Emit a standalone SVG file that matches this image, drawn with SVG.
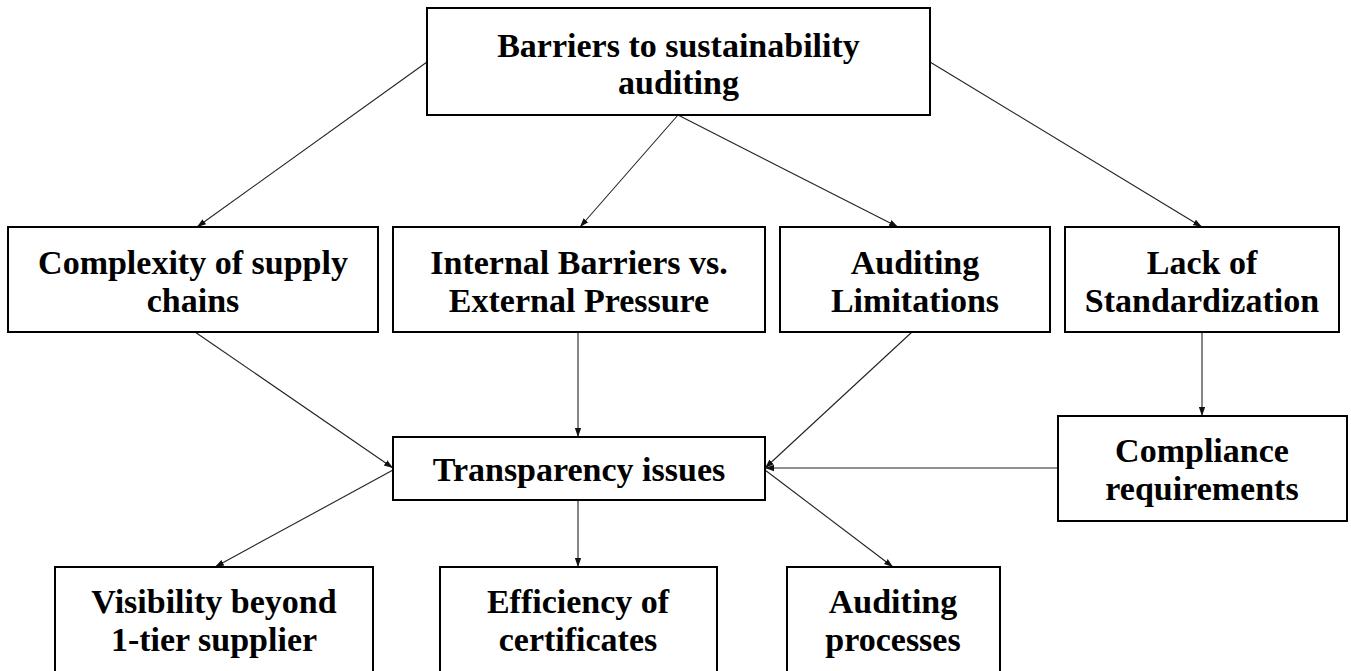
<svg xmlns="http://www.w3.org/2000/svg" width="1351" height="671" viewBox="0 0 1351 671">
  <defs>
    <style>
      .box { fill: #ffffff; stroke: #000000; stroke-width: 2; }
      .lbl { font-family: "Liberation Serif", "Times New Roman", serif; font-weight: bold; font-size: 34px; fill: #000000; text-anchor: middle; }
      .edge { fill: none; stroke: #222222; stroke-width: 1.1; marker-end: url(#arrow); }
    </style>
    <marker id="arrow" viewBox="0 0 10 10" refX="10" refY="5" markerWidth="9" markerHeight="9" markerUnits="userSpaceOnUse" orient="auto">
      <path d="M0,1.5 L10,5 L0,8.5 z" fill="#111111"/>
    </marker>
  </defs>

  <rect width="1351" height="671" fill="#ffffff"/>

  <!-- connectors -->
  <g id="connectors">
    <line class="edge" x1="427" y1="62" x2="197" y2="227"/>
    <line class="edge" x1="678" y1="115" x2="580" y2="227"/>
    <line class="edge" x1="678" y1="115" x2="898" y2="227"/>
    <line class="edge" x1="930" y1="62" x2="1202" y2="227"/>
    <line class="edge" x1="195" y1="332" x2="393" y2="468"/>
    <line class="edge" x1="578" y1="332" x2="578" y2="437"/>
    <line class="edge" x1="912" y1="332" x2="765" y2="468"/>
    <line class="edge" x1="1202" y1="332" x2="1202" y2="416"/>
    <line class="edge" x1="1058" y1="468" x2="765" y2="468"/>
    <line class="edge" x1="393" y1="470" x2="215" y2="567"/>
    <line class="edge" x1="578" y1="500" x2="578" y2="567"/>
    <line class="edge" x1="765" y1="470" x2="893" y2="567"/>
  </g>

  <!-- root -->
  <g id="barriers">
    <rect class="box" x="427" y="8" width="503" height="107"/>
    <text class="lbl" x="678.5" y="57">Barriers to sustainability</text>
    <text class="lbl" x="678.5" y="94">auditing</text>
  </g>

  <!-- second row -->
  <g id="complexity">
    <rect class="box" x="8" y="227" width="370" height="105"/>
    <text class="lbl" x="193" y="274">Complexity of supply</text>
    <text class="lbl" x="193" y="312">chains</text>
  </g>
  <g id="internal">
    <rect class="box" x="393" y="227" width="372" height="105"/>
    <text class="lbl" x="579" y="274">Internal Barriers vs.</text>
    <text class="lbl" x="579" y="312">External Pressure</text>
  </g>
  <g id="limitations">
    <rect class="box" x="780" y="227" width="270" height="105"/>
    <text class="lbl" x="915" y="274">Auditing</text>
    <text class="lbl" x="915" y="312">Limitations</text>
  </g>
  <g id="standardization">
    <rect class="box" x="1065" y="227" width="274" height="105"/>
    <text class="lbl" x="1202" y="274">Lack of</text>
    <text class="lbl" x="1202" y="312">Standardization</text>
  </g>

  <!-- middle row -->
  <g id="transparency">
    <rect class="box" x="393" y="437" width="372" height="63"/>
    <text class="lbl" x="579" y="481">Transparency issues</text>
  </g>
  <g id="compliance">
    <rect class="box" x="1058" y="416" width="289" height="105"/>
    <text class="lbl" x="1202" y="462">Compliance</text>
    <text class="lbl" x="1202" y="500">requirements</text>
  </g>

  <!-- bottom row -->
  <g id="visibility">
    <rect class="box" x="55" y="567" width="318" height="110"/>
    <text class="lbl" x="214" y="613">Visibility beyond</text>
    <text class="lbl" x="214" y="651">1-tier supplier</text>
  </g>
  <g id="efficiency">
    <rect class="box" x="440" y="567" width="277" height="110"/>
    <text class="lbl" x="578" y="613">Efficiency of</text>
    <text class="lbl" x="578" y="651">certificates</text>
  </g>
  <g id="processes">
    <rect class="box" x="787" y="567" width="213" height="110"/>
    <text class="lbl" x="893" y="613">Auditing</text>
    <text class="lbl" x="893" y="651">processes</text>
  </g>
</svg>
